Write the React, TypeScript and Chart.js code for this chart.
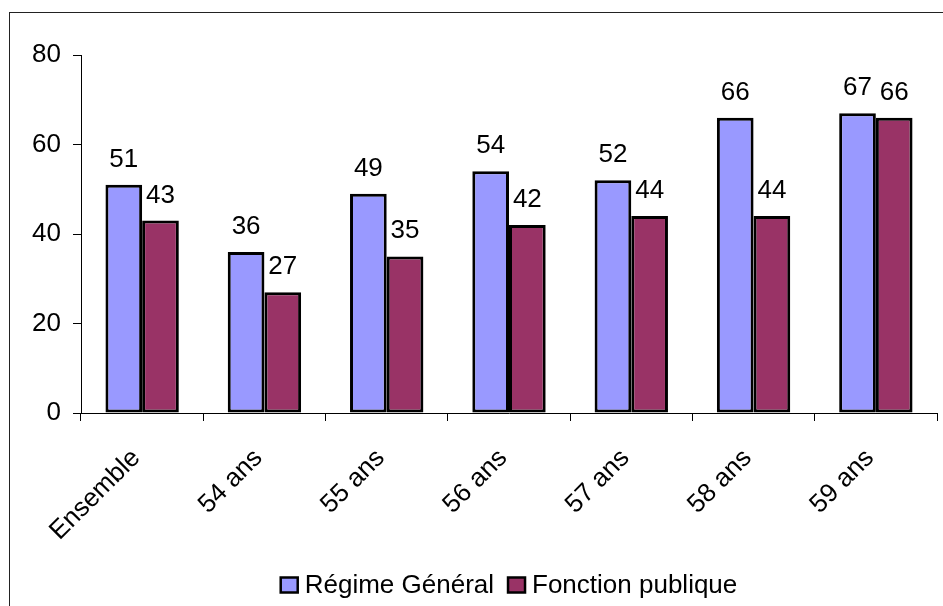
import React, { useEffect, useRef } from "react";
import { Chart, registerables } from "chart.js";

Chart.register(...registerables);

const categories = ["Ensemble", "54 ans", "55 ans", "56 ans", "57 ans", "58 ans", "59 ans"];
const regimeGeneral = [51, 36, 49, 54, 52, 66, 67];
const fonctionPublique = [43, 27, 35, 42, 44, 44, 66];
const seriesNames = ["Régime Général", "Fonction publique"];
const seriesColors = ["#9999FF", "#993366"];
const yTicks = [0, 20, 40, 60, 80];

const FONT = "'Liberation Sans', Arial, sans-serif";
const FS = 26;

const labelPlugin = {
  id: "valueLabels",
  afterDatasetsDraw(chart: any) {
    const ctx = chart.ctx;
    ctx.save();
    ctx.font = `${FS}px ${FONT}`;
    ctx.fillStyle = "#000";
    ctx.textAlign = "center";
    ctx.textBaseline = "alphabetic";
    chart.data.datasets.forEach((ds: any, i: number) => {
      const meta = chart.getDatasetMeta(i);
      meta.data.forEach((bar: any, j: number) => {
        ctx.fillText(String(ds.data[j]), bar.x, bar.y - 18);
      });
    });
    ctx.restore();
  },
};

const legendPlugin = {
  id: "customLegend",
  afterDraw(chart: any) {
    const ctx = chart.ctx;
    ctx.save();
    ctx.font = `${FS}px ${FONT}`;
    ctx.textBaseline = "middle";
    ctx.textAlign = "left";
    const boxW = 17, boxH = 15, gapText = 7, gapItem = 14;
    const items = chart.data.datasets.map((ds: any) => ({
      label: ds.label,
      color: ds.backgroundColor,
      w: ctx.measureText(ds.label).width,
    }));
    let total = 0;
    items.forEach((it: any, i: number) => {
      total += boxW + gapText + it.w + (i < items.length - 1 ? gapItem : 0);
    });
    const ca = chart.chartArea;
    let x = (ca.left + ca.right) / 2 - total / 2;
    const cy = 585;
    items.forEach((it: any) => {
      ctx.fillStyle = it.color;
      ctx.fillRect(x, cy - boxH / 2, boxW, boxH);
      ctx.lineWidth = 2.5;
      ctx.strokeStyle = "#000";
      ctx.strokeRect(x, cy - boxH / 2, boxW, boxH);
      ctx.fillStyle = "#000";
      ctx.fillText(it.label, x + boxW + gapText, cy + 1);
      x += boxW + gapText + it.w + gapItem;
    });
    ctx.restore();
  },
};

export default function App() {
  const ref = useRef<HTMLCanvasElement | null>(null);
  useEffect(() => {
    if (!ref.current) return;
    const chart = new Chart(ref.current, {
      type: "bar",
      data: {
        labels: categories,
        datasets: [
          {
            label: seriesNames[0],
            data: regimeGeneral,
            backgroundColor: seriesColors[0],
            borderColor: "#000",
            borderWidth: 3,
            borderSkipped: false,
            categoryPercentage: 0.6,
            barPercentage: 1,
          },
          {
            label: seriesNames[1],
            data: fonctionPublique,
            backgroundColor: seriesColors[1],
            borderColor: "#000",
            borderWidth: 3,
            borderSkipped: false,
            categoryPercentage: 0.6,
            barPercentage: 1,
          },
        ],
      },
      options: {
        responsive: false,
        animation: false,
        devicePixelRatio: 1,
        layout: { padding: { left: 0, right: 6, top: 55, bottom: 0 } },
        plugins: { legend: { display: false }, tooltip: { enabled: false } },
        scales: {
          x: {
            afterFit: (s: any) => { s.height = 193; },
            grid: { display: true, drawOnChartArea: false, drawTicks: true, tickLength: 8, color: "#000", offset: true },
            border: { display: true, color: "#000", width: 1 },
            ticks: {
              color: "#000",
              font: { family: FONT, size: FS },
              maxRotation: 45,
              minRotation: 45,
              padding: 22,
              labelOffset: -6,
              autoSkip: false,
            },
          },
          y: {
            min: 0,
            max: 80,
            afterFit: (s: any) => { s.width = 81; },
            afterBuildTicks: (s: any) => { s.ticks = yTicks.map((v) => ({ value: v })); },
            grid: { display: true, drawOnChartArea: false, drawTicks: true, tickLength: 8, color: "#000" },
            border: { display: true, color: "#000", width: 1 },
            ticks: { color: "#000", font: { family: FONT, size: FS }, padding: 12 },
          },
        },
      },
      plugins: [labelPlugin, legendPlugin],
    });
    return () => chart.destroy();
  }, []);
  return (
    <div style={{ position: "fixed", left: 0, top: 0, width: 943, height: 606, overflow: "hidden", background: "#fff" }}>
      <div style={{ position: "absolute", left: 9, top: 12, width: 1000, height: 1000, border: "1px solid #222" }} />
      <canvas ref={ref} width={943} height={606} style={{ position: "absolute", left: 0, top: 0 }} />
    </div>
  );
}
